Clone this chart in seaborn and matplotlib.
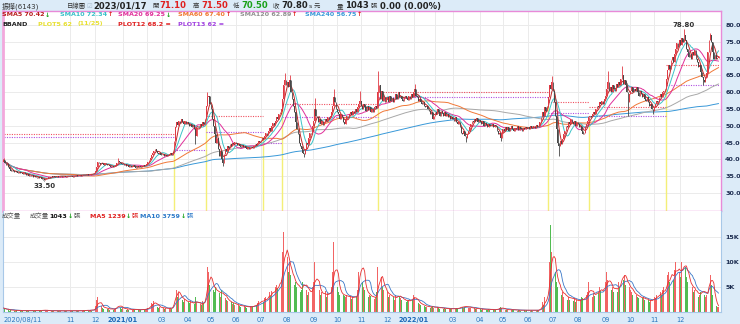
import numpy as np
import pandas as pd
import matplotlib
matplotlib.use("Agg")
import matplotlib.pyplot as plt
import seaborn as sns

# ------------------------------------------------------------------ data
month_labels = ["2020/08/11", "", "", "11", "12",
                "2021/01", "", "03", "04", "05", "06", "07", "08", "09", "10", "11", "12",
                "2022/01", "", "03", "04", "05", "06", "07", "08", "09", "10", "11", "12",
                ""]
grid_month = [0, 0, 0, 1, 1, 1, 1, 1, 1, 1, 1, 1, 1, 1, 1, 1, 1,
              1, 1, 1, 1, 1, 1, 1, 1, 1, 1, 1, 1, 0]

close_m = [
    [39.8, 39.0, 38.2, 38.6, 37.6, 37.0, 36.6, 36.9, 36.4, 36.2, 36.5, 36.3, 36.0, 36.2, 35.9],
    [36.0, 35.8, 36.1, 35.7, 35.5, 35.6, 35.2, 35.4, 35.0, 35.3, 34.9, 35.1, 34.8, 34.6, 34.9,
     34.5, 34.7, 34.3, 34.0, 33.9, 34.2, 34.4],
    [34.5, 34.7, 34.6, 34.9, 34.8, 35.0, 34.8, 34.9, 35.1, 34.9, 35.0, 35.2, 34.9, 35.0, 35.1,
     34.8, 35.0, 35.2, 35.0],
    [35.0, 35.1, 34.9, 35.2, 35.0, 35.3, 35.1, 35.2, 35.4, 35.2, 35.3, 35.5, 35.3, 35.4, 35.6,
     35.4, 35.5, 35.7, 35.6, 35.8, 36.0],
    [36.5, 37.8, 39.2, 39.0, 38.6, 39.0, 38.7, 38.4, 38.8, 38.5, 38.2, 38.4, 38.0, 37.8, 38.1,
     37.7, 37.9, 38.3, 39.0, 39.6, 39.2, 38.8, 38.5],
    [38.6, 38.2, 38.5, 38.0, 38.3, 37.8, 38.1, 37.6, 37.9, 38.2, 37.8, 37.5, 37.9, 37.6, 38.0,
     37.7, 38.1, 38.3, 38.0, 38.4],
    [38.6, 39.2, 39.8, 40.5, 41.2, 41.8, 42.6, 43.2, 42.5, 42.0, 41.6, 41.9, 41.4],
    [41.3, 41.6, 41.0, 41.4, 40.9, 41.2, 41.5, 41.8, 41.3, 42.0, 45.5, 49.5, 51.0, 50.2, 51.5,
     50.8, 52.0, 51.2, 50.5, 51.3, 50.6, 51.0],
    [50.5, 49.8, 50.6, 49.5, 50.2, 49.0, 47.0, 49.5, 50.0, 49.6, 50.4, 50.0, 51.0, 50.6, 52.0,
     56.0, 58.5, 59.0, 56.5],
    [55.0, 52.0, 50.0, 47.5, 45.0, 46.5, 43.0, 41.0, 42.5, 40.0, 39.0, 41.5, 43.0, 42.5, 44.0,
     43.5, 44.5, 44.0, 45.0, 44.6, 45.2],
    [44.8, 44.2, 44.6, 44.0, 43.8, 44.3, 43.6, 43.9, 43.4, 43.2, 43.6, 43.0, 43.5, 43.8, 43.4,
     44.0, 44.5, 44.2, 45.0, 45.5, 45.2],
    [45.8, 46.5, 46.0, 47.0, 47.8, 47.2, 48.5, 49.2, 48.6, 50.0, 50.8, 50.2, 51.5, 52.5, 52.0,
     53.5, 54.0, 55.0, 58.0, 62.0, 63.5, 62.0],
    [63.0, 61.5, 63.5, 60.0, 58.0, 56.0, 54.0, 51.0, 49.0, 47.5, 45.0, 44.0, 43.0, 42.0, 41.5,
     43.0, 45.0, 44.5, 46.5, 48.0, 47.5, 50.0],
    [51.5, 55.0, 53.0, 52.5, 51.0, 52.0, 50.5, 51.5, 50.2, 51.0, 52.0, 51.4, 52.5, 52.0, 53.0,
     54.0, 56.0, 58.5, 57.0, 55.0],
    [54.0, 53.5, 52.0, 53.5, 52.5, 51.0, 50.5, 52.0, 53.0, 52.5, 53.5, 54.0, 53.2, 54.5, 53.8,
     55.0, 54.2, 55.5, 56.5, 57.5],
    [56.0, 55.0, 56.5, 55.5, 54.5, 55.8, 54.8, 55.5, 54.2, 55.0, 54.0, 55.5, 56.0, 55.2, 60.0,
     62.0, 58.0, 60.5, 57.5, 58.5, 57.0, 58.0],
    [58.5, 57.0, 59.0, 57.5, 58.2, 57.0, 58.0, 59.5, 58.0, 60.0, 58.5, 59.0, 58.0, 57.5, 58.5,
     59.0, 58.2, 57.8, 58.8, 58.0, 59.5, 58.5],
    [60.0, 61.0, 59.0, 58.5, 57.5, 58.0, 57.0, 56.5, 57.0, 56.0, 55.5, 56.0, 55.0, 54.5, 53.5,
     54.0, 52.0, 53.0],
    [54.0, 53.5, 55.0, 54.0, 53.0, 54.5, 53.8, 53.0, 54.0, 52.8, 53.5, 52.5, 53.0, 52.0, 52.5],
    [52.0, 51.5, 52.5, 51.0, 50.5, 51.2, 49.5, 48.0, 47.5, 48.5, 47.0, 46.5, 47.5, 48.5, 49.5,
     50.5, 51.5, 51.0, 52.0, 51.5, 52.2, 51.0, 51.8],
    [51.0, 50.5, 51.5, 50.0, 50.8, 50.2, 49.5, 50.5, 50.0, 49.8, 50.6, 49.5, 50.2, 49.8, 48.5,
     47.5, 48.0, 46.5, 48.0],
    [49.0, 48.5, 49.5, 48.8, 49.5, 48.5, 49.2, 49.8, 49.0, 48.5, 49.3, 49.0, 49.8, 48.8, 49.5,
     49.0, 48.6, 49.4, 49.0, 49.6, 49.2],
    [49.5, 49.0, 49.8, 49.2, 49.5, 50.0, 49.4, 50.2, 49.6, 50.0, 51.0, 52.5, 54.0, 53.0, 55.5,
     54.5, 56.0, 58.5, 62.0, 61.0, 63.0],
    [60.5, 57.0, 53.0, 49.0, 45.0, 44.0, 45.5, 44.5, 46.0, 47.5, 48.5, 50.0, 49.5, 51.0, 50.5,
     52.0, 51.0, 50.5, 51.5, 50.0, 51.0],
    [50.5, 49.5, 50.0, 48.5, 47.5, 48.0, 49.5, 50.5, 51.5, 52.5, 53.0, 52.5, 53.5, 54.0, 53.5,
     55.0, 56.0, 55.5, 57.0, 56.5, 57.5, 56.5, 58.0],
    [59.0, 61.0, 63.0, 60.5, 61.5, 60.0, 62.0, 61.0, 60.5, 62.5, 61.5, 63.0, 62.0, 64.0, 65.0,
     62.5, 63.5, 62.0, 60.0, 57.0, 59.5],
    [60.5, 61.5, 60.0, 61.0, 60.5, 61.5, 60.0, 59.0, 60.5, 59.5, 58.5, 59.5, 58.0, 57.5, 58.5,
     57.0, 56.0, 56.5, 55.0, 54.5],
    [55.5, 56.5, 57.5, 57.0, 58.5, 59.5, 58.5, 60.0, 60.5, 61.0, 64.0, 66.5, 68.0, 67.0, 69.5,
     70.5, 69.0, 71.5, 73.0, 74.5, 73.5, 75.5],
    [74.0, 76.0, 75.0, 77.0, 75.5, 73.0, 72.0, 70.5, 71.5, 70.0, 72.0, 71.0, 72.5, 70.0, 69.0,
     67.5, 68.0, 66.0, 64.5, 63.5, 63.0, 64.5],
    [65.6, 72.0, 75.5, 77.0, 74.8, 72.0, 70.0, 71.0, 70.0, 70.3, 70.8],
]
first_open = 39.3

# volume in thousands of lots (張)
vol_m = [
    [0.8, 0.6, 0.5, 0.4, 0.5, 0.3, 0.4, 0.3, 0.4, 0.3, 0.3, 0.4, 0.3, 0.3, 0.2],
    [0.3, 0.2, 0.3, 0.3, 0.2, 0.3, 0.2, 0.3, 0.2, 0.3, 0.2, 0.2, 0.3, 0.3, 0.2, 0.4, 0.3, 0.3,
     0.5, 0.4, 0.3, 0.3],
    [0.2, 0.3, 0.2, 0.2, 0.3, 0.2, 0.2, 0.3, 0.2, 0.2, 0.3, 0.2, 0.2, 0.2, 0.3, 0.2, 0.2, 0.3, 0.2],
    [0.2, 0.3, 0.2, 0.3, 0.2, 0.3, 0.3, 0.2, 0.3, 0.2, 0.3, 0.4, 0.3, 0.3, 0.4, 0.3, 0.3, 0.4,
     0.3, 0.5, 0.6],
    [1.2, 2.5, 3.0, 1.5, 1.0, 1.2, 0.8, 0.7, 0.9, 0.6, 0.7, 0.6, 0.5, 0.6, 0.7, 0.5, 0.6, 0.8,
     1.5, 1.8, 1.0, 0.8, 0.7],
    [0.8, 0.6, 0.7, 0.5, 0.6, 0.5, 0.6, 0.4, 0.5, 0.6, 0.5, 0.4, 0.5, 0.4, 0.5, 0.4, 0.5, 0.6,
     0.5, 0.6],
    [0.7, 0.9, 1.0, 1.5, 1.8, 1.6, 2.2, 2.0, 1.2, 1.0, 0.9, 1.0, 0.8],
    [0.8, 0.9, 0.7, 0.8, 0.6, 0.7, 0.8, 0.9, 0.7, 1.2, 3.5, 5.5, 4.5, 3.0, 3.8, 2.5, 3.2, 2.4,
     2.0, 2.6, 1.8, 2.2],
    [2.0, 1.8, 2.2, 1.5, 1.8, 1.6, 3.0, 2.0, 1.5, 1.4, 1.6, 1.5, 2.2, 1.8, 2.8, 6.5, 9.0, 8.0, 5.5],
    [6.0, 5.0, 4.5, 4.0, 5.0, 3.5, 4.2, 3.8, 3.0, 4.5, 3.5, 3.0, 2.8, 2.5, 2.2, 2.0, 1.8, 2.0,
     1.6, 1.8, 1.5],
    [1.5, 1.3, 1.4, 1.2, 1.1, 1.3, 1.0, 1.2, 1.0, 0.9, 1.1, 1.0, 1.2, 1.0, 1.1, 1.3, 1.6, 1.4,
     1.8, 2.2, 2.0],
    [2.5, 2.2, 2.0, 2.8, 3.0, 2.5, 3.5, 4.0, 3.2, 4.2, 4.5, 3.8, 5.0, 5.5, 4.8, 6.0, 7.0, 6.5,
     12.0, 16.0, 13.0, 10.0],
    [11.0, 8.0, 10.0, 7.5, 6.0, 6.5, 5.5, 6.0, 5.0, 4.5, 5.5, 4.0, 4.5, 6.0, 7.0, 5.0, 4.5, 3.5,
     4.0, 4.8, 3.5, 5.0],
    [6.0, 10.0, 7.0, 5.0, 4.0, 4.5, 3.5, 4.0, 3.0, 3.5, 4.2, 3.0, 3.8, 3.2, 4.5, 5.0, 8.0, 14.0,
     9.0, 6.0],
    [5.0, 4.0, 3.5, 4.0, 3.0, 3.5, 3.2, 3.0, 3.5, 2.8, 3.0, 3.2, 2.6, 3.0, 2.8, 3.5, 3.0, 4.5,
     8.0, 16.0],
    [9.0, 6.0, 5.0, 4.5, 4.0, 3.5, 3.0, 3.5, 3.2, 2.8, 3.0, 2.6, 3.0, 4.0, 9.0, 8.5, 6.0, 7.0,
     5.0, 4.5, 4.0, 3.5],
    [4.0, 3.0, 3.5, 3.2, 2.8, 3.0, 2.5, 3.5, 2.6, 4.0, 3.0, 2.8, 2.5, 2.2, 2.6, 2.4, 2.0, 2.2,
     2.5, 2.0, 3.0, 2.5],
    [3.5, 3.0, 2.2, 2.0, 1.8, 1.6, 1.5, 1.4, 1.3, 1.2, 1.1, 1.0, 1.2, 1.0, 0.9, 1.0, 1.2, 0.9],
    [0.8, 0.9, 1.0, 0.8, 0.7, 0.9, 0.8, 0.7, 0.8, 0.6, 0.7, 0.6, 0.7, 0.6, 0.6],
    [0.6, 0.7, 0.6, 0.8, 0.7, 0.9, 1.0, 1.2, 1.0, 0.9, 1.1, 1.3, 1.0, 0.9, 0.8, 0.9, 0.8, 0.7,
     0.8, 0.7, 0.6, 0.7, 0.6],
    [0.6, 0.5, 0.6, 0.5, 0.6, 0.5, 0.5, 0.6, 0.5, 0.4, 0.5, 0.5, 0.4, 0.5, 0.6, 0.7, 0.8, 1.0, 0.8],
    [0.6, 0.5, 0.5, 0.4, 0.5, 0.4, 0.5, 0.4, 0.4, 0.5, 0.4, 0.4, 0.3, 0.4, 0.4, 0.3, 0.4, 0.3,
     0.4, 0.3, 0.4],
    [0.3, 0.4, 0.3, 0.4, 0.3, 0.3, 0.4, 0.3, 0.4, 0.4, 0.8, 1.2, 2.0, 1.5, 3.0, 2.5, 3.5, 6.0,
     10.0, 17.5, 12.0],
    [9.0, 7.0, 8.0, 6.0, 5.0, 4.0, 4.5, 3.5, 4.0, 3.0, 3.5, 3.0, 2.5, 3.0, 2.5, 3.2, 2.6, 2.2,
     2.8, 2.0, 2.5],
    [2.2, 2.0, 2.5, 3.0, 2.8, 2.4, 3.0, 3.5, 4.0, 6.0, 4.5, 3.5, 3.0, 3.8, 3.2, 4.0, 4.5, 3.8,
     5.0, 4.2, 4.8, 3.5, 5.5],
    [6.0, 8.0, 6.5, 5.0, 5.5, 4.5, 5.0, 4.0, 4.5, 5.5, 4.0, 6.0, 5.0, 7.0, 10.0, 6.5, 7.5, 5.5,
     4.5, 6.0, 5.0],
    [4.5, 4.0, 3.5, 4.0, 3.0, 3.5, 3.0, 2.8, 3.2, 2.5, 2.8, 3.0, 2.4, 2.6, 2.2, 2.5, 2.0, 2.4,
     2.2, 2.8],
    [3.0, 2.8, 3.5, 3.0, 3.8, 4.0, 3.5, 4.5, 5.0, 4.0, 6.0, 7.5, 8.0, 6.0, 7.0, 9.0, 6.5, 8.5,
     10.0, 7.0, 9.5, 8.0],
    [7.0, 10.0, 8.0, 12.0, 9.0, 7.0, 6.0, 5.0, 6.5, 4.5, 5.0, 4.0, 4.5, 3.5, 4.0, 3.0, 3.5, 4.0,
     5.0, 4.5, 3.5, 3.0],
    [3.5, 4.0, 11.0, 7.5, 5.4, 3.5, 1.5, 1.4, 1.2, 1.052, 1.043],
]

# notable wick extremes (bar index -> price)
high_marks = {0: 40.5, 96: 40.3, 171: 60.2, 236: 65.8, 240: 65.0, 261: 58.3, 277: 61.0,
              299: 60.5, 314: 66.2, 345: 62.5, 460: 64.8, 507: 66.2, 519: 67.8, 571: 78.8,
              593: 77.6}
low_marks = {34: 33.5, 161: 44.5, 184: 38.0, 252: 40.6, 388: 45.3, 417: 45.5, 466: 41.0,
             524: 53.0, 545: 53.5, 587: 62.0}

# PLOT12 / PLOT13 stop levels per signal segment, PLOT5 signal bars
seg_bounds = [0, 143, 170, 218, 234, 314, 457, 491, 556, 600]
plot12_levels = [47.6, None, 53.0, None, 56.5, 60.2, 57.2, 55.6, 68.2]
plot13_levels = [46.6, 42.8, 48.2, 44.8, 52.6, 58.7, 53.8, 52.9, 62.0]
signal_idx = [143, 170, 218, 234, 314, 457, 491, 556]

# ------------------------------------------------------------------ derived
close = np.concatenate([np.asarray(m, float) for m in close_m])
vol = np.concatenate([np.asarray(m, float) for m in vol_m])
n = len(close)
idx = np.arange(n)
open_ = np.r_[first_open, close[:-1]]
high = np.maximum(open_, close)
low = np.minimum(open_, close)
for k, v in high_marks.items():
    high[k] = max(high[k], v)
for k, v in low_marks.items():
    low[k] = min(low[k], v)
up = close >= open_

month_start = np.cumsum([0] + [len(m) for m in close_m[:-1]])

cs = pd.Series(close)
ma_specs = [(5, "#c02828"), (10, "#3cc4c8"), (20, "#e0309a"),
            (60, "#f07838"), (120, "#a8a8a8"), (240, "#3898d8")]
df = pd.DataFrame({"i": idx})
for w, _ in ma_specs:
    df[f"ma{w}"] = cs.rolling(w, min_periods=1).mean()
vs = pd.Series(vol)
df["v5"] = vs.rolling(5, min_periods=1).mean()
df["v10"] = vs.rolling(10, min_periods=1).mean()

# ------------------------------------------------------------------ figure
sns.set_theme(style="white")
plt.rcParams["font.family"] = ["DejaVu Sans", "Noto Sans CJK TC"]

W, H = 740, 324
BG = "#dcebf8"
fig = plt.figure(figsize=(W / 100, H / 100), dpi=100, facecolor=BG)

def fx(x):
    return x / W

def fy(y):
    return 1 - y / H

ax1 = fig.add_axes([fx(3), fy(211), fx(718), 200 / H])
ax2 = fig.add_axes([fx(3), fy(312), fx(718), 101 / H])
pxbar = 715 / 600.0
xl = (-0.5, -0.5 + 718 / pxbar)
for ax in (ax1, ax2):
    ax.set_facecolor("white")
    ax.set_xlim(*xl)

Y0, Y1 = 24.64, 84.17
ax1.set_ylim(Y0, Y1)
ax2.set_ylim(0, 20.2)

gridc = "#ebebeb"
for k, m0 in enumerate(month_start):
    if grid_month[k]:
        ax1.axvline(m0, color=gridc, lw=0.7, zorder=0)
        ax2.axvline(m0, color=gridc, lw=0.7, zorder=0)
for v in range(30, 81, 5):
    ax1.axhline(v, color=gridc, lw=0.7, zorder=0)
for v in (5, 10, 15):
    ax2.axhline(v, color=gridc, lw=0.7, zorder=0)

# PLOT5 signal lines (yellow)
for s in signal_idx:
    ax1.vlines(s, Y0, low[s], color="#f4ef78", lw=1.0, zorder=1)

# PLOT12 / PLOT13 dotted levels
for k in range(len(seg_bounds) - 1):
    a, b = seg_bounds[k], seg_bounds[k + 1]
    if plot12_levels[k] is not None:
        ax1.hlines(plot12_levels[k], a, b, color="#f05060", lw=0.8,
                   linestyles=(0, (1, 1.2)), zorder=2)
    if plot13_levels[k] is not None:
        ax1.hlines(plot13_levels[k], a, b, color="#b050e0", lw=0.8,
                   linestyles=(0, (1, 1.2)), zorder=2)

# moving averages
for w, c in ma_specs[::-1]:
    sns.lineplot(data=df, x="i", y=f"ma{w}", ax=ax1, color=c, lw=0.7,
                 estimator=None, zorder=3)

# candles
ccol = np.where(up, "#e03a44", "#484848")
ax1.vlines(idx, low, high, colors=ccol, lw=0.6, zorder=4)
body = np.maximum(np.abs(close - open_), 0.15)
ax1.bar(idx, body, bottom=np.minimum(open_, close), width=0.7, color=ccol,
        linewidth=0, zorder=4)

ax1.text(571, 79.2, "78.80", ha="center", va="bottom", fontsize=5.0,
         fontweight="bold", color="#333333", zorder=6)
ax1.text(34, 33.0, "33.50", ha="center", va="top", fontsize=5.0,
         fontweight="bold", color="#333333", zorder=6)

# volume
vcol = np.where(up, "#f26464", "#52bc52")
ax2.bar(idx, vol, width=0.5, color=vcol, linewidth=0, zorder=2)
sns.lineplot(data=df, x="i", y="v10", ax=ax2, color="#3a78c8", lw=0.6,
             estimator=None, zorder=3)
sns.lineplot(data=df, x="i", y="v5", ax=ax2, color="#e83030", lw=0.6,
             estimator=None, zorder=3)

# axes styling
for ax in (ax1, ax2):
    ax.set_xlabel("")
    ax.set_ylabel("")
    ax.yaxis.tick_right()
    ax.tick_params(axis="y", length=0, pad=3, labelsize=4.6, labelcolor="#1c2c50")

ax1.set_yticks(range(30, 81, 5))
ax1.set_yticklabels([f"{v:.1f}" for v in range(30, 81, 5)], fontweight="bold")
ax2.set_yticks([5, 10, 15])
ax2.set_yticklabels(["5K", "10K", "15K"], fontweight="bold")

ax1.set_xticks([])
lab_pos = [month_start[k] for k, s in enumerate(month_labels) if s]
lab_txt = [s for s in month_labels if s]
ax2.set_xticks(lab_pos)
ax2.set_xticklabels(lab_txt)
ax2.tick_params(axis="x", length=2, width=0.6, color="#5a90c8", pad=1.5,
                labelsize=4.8, labelcolor="#2a78c0")
for t in ax2.get_xticklabels():
    if "/" in t.get_text() and len(t.get_text()) == 7:
        t.set_fontweight("bold")
        t.set_color("#1a68b8")
    if t.get_text() == "2020/08/11":
        t.set_horizontalalignment("left")

for sp in ax1.spines.values():
    sp.set_color("#e88ad8")
    sp.set_linewidth(1.0)
ax1.spines["left"].set_linewidth(2.0)
ax1.spines["left"].set_color("#f2a8dc")
for sp in ax2.spines.values():
    sp.set_color("#a8c8e8")
    sp.set_linewidth(0.8)
ax2.spines["top"].set_visible(False)

# ------------------------------------------------------------------ texts
fig.canvas.draw()
rend = fig.canvas.get_renderer()

def seq(x, y, parts, gap=1.5):
    for s, c, wt, sz in parts:
        t = fig.text(fx(x), fy(y), s, color=c, fontweight=wt, fontsize=sz,
                     ha="left", va="center", zorder=10)
        bb = t.get_window_extent(renderer=rend)
        x += bb.width + gap

RED, GRN = "#e02020", "#18a018"
T = 4.6
B = 6.1
seq(2, 6, [("振樺(6143)", "#333333", "normal", 5.0)])
seq(67, 6, [("日線圖", "#333333", "normal", T)])
seq(86, 6, [("☑", "#a8bcd0", "normal", 4.6)])
seq(93, 6, [("2023/01/17", "#222222", "bold", B)])
seq(152, 6, [("開", "#333333", "normal", T), ("71.10", RED, "bold", B)])
seq(193, 6, [("高", "#333333", "normal", T), ("71.50", RED, "bold", B)])
seq(233, 6, [("低", "#333333", "normal", T), ("70.50", GRN, "bold", B)])
seq(273, 6, [("收", "#333333", "normal", T), ("70.80", "#222222", "bold", B),
             ("s", "#333333", "normal", 4.6), ("元", "#333333", "normal", T)])
seq(337, 6, [("量", "#333333", "normal", T), ("1043", "#222222", "bold", B),
             ("張", "#333333", "normal", T)])
seq(380, 6, [("0.00 (0.00%)", "#222222", "bold", B)])

L = 4.6
ma_legend = [(2, "SMA5 70.42", "#b81c1c", "↓", GRN),
             (60, "SMA10 72.34", "#38c0c8", "↑", RED),
             (118, "SMA20 69.25", "#e0309a", "↓", GRN),
             (178, "SMA60 67.40", "#f07830", "↑", RED),
             (240, "SMA120 62.89", "#909090", "↑", RED),
             (305, "SMA240 56.75", "#3a9ad8", "↑", RED)]
for x, s, c, a, ac in ma_legend:
    seq(x, 15, [(s, c, "bold", L), (a, ac, "bold", L)], gap=0.5)

seq(2, 24, [("BBAND", "#222222", "bold", L)])
seq(38, 24, [("PLOT5 62", "#e8e030", "bold", L)])
seq(78, 24, [("(11/25)", "#e8e030", "bold", L)])
seq(118, 24, [("PLOT12 68.2 =", "#e02020", "bold", L)])
seq(178, 24, [("PLOT13 62 =", "#a040e0", "bold", L)])

seq(2, 216, [("成交量", "#555555", "normal", L)])
seq(30, 216, [("成交量", "#555555", "normal", L), ("1043", "#111111", "bold", L),
              ("↓", GRN, "bold", L), ("張", "#555555", "normal", L)], gap=0.5)
seq(90, 216, [("MA5 1239", "#e02020", "bold", L), ("↓", GRN, "bold", L),
              ("張", "#e02020", "normal", L)], gap=0.5)
seq(140, 216, [("MA10 3759", "#2a78c8", "bold", L), ("↓", GRN, "bold", L),
               ("張", "#2a78c8", "normal", L)], gap=0.5)

fig.savefig("out.png", dpi=100, facecolor=BG)
